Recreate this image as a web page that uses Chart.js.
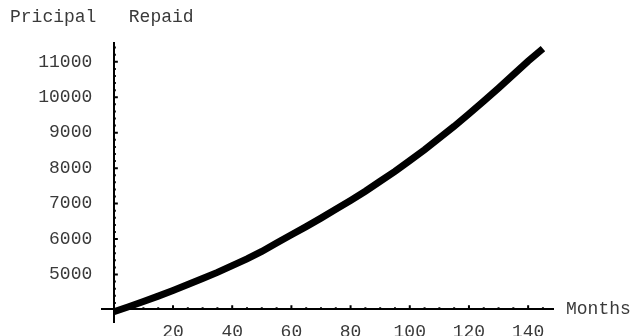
<!DOCTYPE html>
<html>
<head>
<meta charset="utf-8">
<script src="https://cdn.jsdelivr.net/npm/chart.js@4.4.1/dist/chart.umd.min.js"></script>
<style>
  html, body { margin: 0; padding: 0; background: #fff; }
  canvas { display: block; }
</style>
</head>
<body>
<canvas id="myChart" width="633" height="336"></canvas>
<script>
'use strict';

// principal repaid, every 5 months
const months = [0, 5, 10, 15, 20, 25, 30, 35, 40, 45, 50, 55, 60, 65, 70,
  75, 80, 85, 90, 95, 100, 105, 110, 115, 120, 125, 130, 135, 140, 145];
const principal = [3950, 4090, 4240, 4390, 4550, 4720, 4890, 5060, 5250, 5440,
  5650, 5890, 6120, 6350, 6590, 6840, 7090, 7350, 7630, 7910, 8210, 8520,
  8850, 9180, 9530, 9890, 10260, 10640, 11020, 11370];

const xTicks = [20, 40, 60, 80, 100, 120, 140];
const yTicks = [5000, 6000, 7000, 8000, 9000, 10000, 11000];
const xAxisAt = 4020; // where the month axis crosses

const yLabel = 'Pricipal   Repaid';
const xLabel = 'Months';

const font = { family: '"Liberation Mono", monospace', size: 18 };
const textColor = '#3a3a3a';

const ctx = document.getElementById('myChart').getContext('2d');

// mathematica style tick marks + axis labels
const axisMarks = {
  id: 'axisMarks',
  beforeDatasetsDraw(chart) {
    const { ctx, scales: { x, y } } = chart;
    const x0 = x.getPixelForValue(0);
    const y0 = y.getPixelForValue(xAxisAt);
    ctx.save();
    ctx.strokeStyle = '#000';
    ctx.lineWidth = 2;
    ctx.beginPath();
    for (let v = 5; v <= 145; v += 5) {
      const px = x.getPixelForValue(v);
      const len = v % 20 === 0 ? 4 : 2;
      ctx.moveTo(px, y0);
      ctx.lineTo(px, y0 - len);
    }
    for (let v = 4200; v <= 11400; v += 200) {
      const py = y.getPixelForValue(v);
      const len = v % 1000 === 0 ? 4 : 2;
      ctx.moveTo(x0, py);
      ctx.lineTo(x0 + len, py);
    }
    ctx.stroke();
    ctx.fillStyle = textColor;
    ctx.font = font.size + 'px ' + font.family;
    ctx.textBaseline = 'middle';
    ctx.textAlign = 'left';
    ctx.fillText(yLabel, 10, 17);
    ctx.fillText(xLabel, 566, y0);
    ctx.restore();
  }
};

const myChart = new Chart(ctx, {
  type: 'line',
  data: {
    datasets: [{
      data: months.map((m, i) => ({ x: m, y: principal[i] })),
      borderColor: '#000',
      borderWidth: 7,
      pointRadius: 0,
      tension: 0,
      clip: false
    }]
  },
  options: {
    responsive: false,
    animation: false,
    layout: { padding: { left: 102, right: 80, top: 43, bottom: 7 } },
    plugins: {
      legend: { display: false },
      tooltip: { enabled: false }
    },
    scales: {
      x: {
        type: 'linear',
        position: { y: xAxisAt },
        min: -4,
        max: 148.4,
        afterBuildTicks: s => { s.ticks = xTicks.map(v => ({ value: v })); },
        grid: { display: false, drawTicks: false },
        border: { display: true, color: '#000', width: 2 },
        ticks: { color: textColor, font: font, padding: 12, maxRotation: 0 }
      },
      y: {
        type: 'linear',
        position: { x: 0 },
        min: 3655,
        max: 11530,
        afterBuildTicks: s => { s.ticks = yTicks.map(v => ({ value: v })); },
        grid: { display: false, drawTicks: false },
        border: { display: true, color: '#000', width: 2 },
        // positioned axes ignore tick padding, so pad with spaces
        ticks: { color: textColor, font: font, callback: v => String(v) + '  ' }
      }
    }
  },
  plugins: [axisMarks]
});
</script>
</body>
</html>
